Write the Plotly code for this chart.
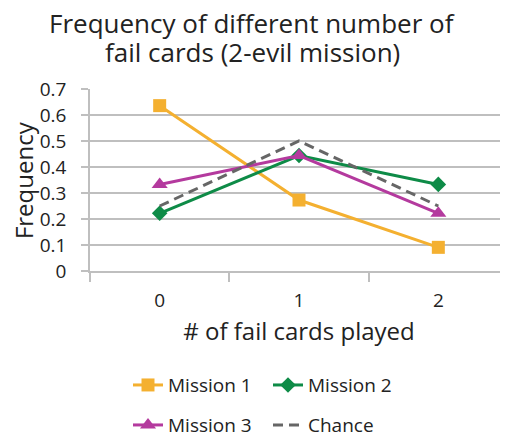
import plotly.graph_objects as go

categories = ["0", "1", "2"]
mission1 = [0.636, 0.273, 0.091]
mission2 = [0.222, 0.444, 0.333]
mission3 = [0.333, 0.444, 0.222]
chance = [0.25, 0.5, 0.25]

y_ticks = [0, 0.1, 0.2, 0.3, 0.4, 0.5, 0.6, 0.7]
y_labels = ["0", "0.1", "0.2", "0.3", "0.4", "0.5", "0.6", "0.7"]

title_lines = ["Frequency of different number of", "fail cards (2-evil mission)"]
y_title = "Frequency"

FONT = "Open Sans"
TXT = "#222222"
AXC = "#BFBFBF"

fig = go.Figure()
fig.add_trace(go.Scatter(x=categories, y=mission1, name="Mission 1", mode="lines+markers",
                         line=dict(color="#F4B030", width=3),
                         marker=dict(symbol="square", size=13, color="#F4B030"),
                         legend="legend"))
fig.add_trace(go.Scatter(x=categories, y=mission2, name="Mission 2", mode="lines+markers",
                         line=dict(color="#0E8B47", width=3),
                         marker=dict(symbol="diamond", size=12, color="#0E8B47"),
                         legend="legend"))
fig.add_trace(go.Scatter(x=categories, y=mission3, name="Mission 3", mode="lines+markers",
                         line=dict(color="#B43A9E", width=3),
                         marker=dict(symbol="triangle-up", size=14, color="#B43A9E"),
                         legend="legend2"))
fig.add_trace(go.Scatter(x=categories, y=chance, name="Chance", mode="lines",
                         line=dict(color="#666666", width=3, dash="10px,6px"),
                         legend="legend2"))

# title drawn as two lines to keep the tight line spacing
fig.add_annotation(text=title_lines[0], xref="paper", yref="paper", x=0.388, y=1.362,
                   xanchor="center", yanchor="middle", showarrow=False,
                   font=dict(size=26, family=FONT, color=TXT))
fig.add_annotation(text=title_lines[1], xref="paper", yref="paper", x=0.388, y=1.203,
                   xanchor="center", yanchor="middle", showarrow=False,
                   font=dict(size=26, family=FONT, color=TXT))
# y axis title
fig.add_annotation(text=y_title, xref="paper", yref="paper", x=-0.160, y=0.5,
                   xanchor="center", yanchor="middle", textangle=-90, showarrow=False,
                   font=dict(size=24, family=FONT, color=TXT))

legend_style = dict(orientation="h", xref="container", yref="container",
                    xanchor="left", yanchor="middle",
                    entrywidth=95, font=dict(size=19, family=FONT, color=TXT),
                    bgcolor="rgba(0,0,0,0)")

# page body adds an 8px margin, so the figure is 8px smaller than the window
fig.update_layout(
    width=500, height=430,
    margin=dict(l=82, r=0, t=81, b=167, autoexpand=False),
    plot_bgcolor="white", paper_bgcolor="white",
    font=dict(family=FONT, color=TXT, size=19),
    xaxis=dict(type="category", range=[-0.5, 2.5], tickson="boundaries", ticks="outside",
               ticklen=9, tickcolor=AXC, tickwidth=1.5, showline=True, linecolor=AXC,
               linewidth=1.5, showgrid=False, tickfont=dict(size=19), ticklabelstandoff=11,
               automargin=False,
               title=dict(text="# of fail cards played", font=dict(size=24), standoff=12)),
    yaxis=dict(range=[0, 0.7], tickvals=y_ticks, ticktext=y_labels, ticks="outside",
               ticklen=7, tickcolor=AXC, tickwidth=1.5, showline=True, linecolor=AXC,
               linewidth=1.5, gridcolor=AXC, gridwidth=1.5, zeroline=False,
               tickfont=dict(size=19), ticklabelstandoff=11, automargin=False),
    legend=dict(x=0.24, y=0.123, **legend_style),
    legend2=dict(x=0.24, y=0.030, **legend_style),
    showlegend=True,
)

fig.write_html("out.html")
